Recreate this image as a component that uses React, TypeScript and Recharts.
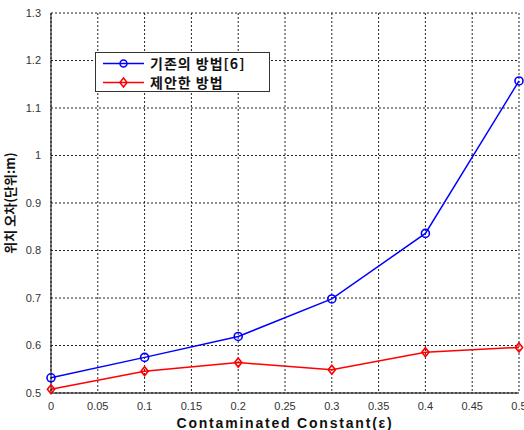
import { LineChart, Line, XAxis, YAxis, CartesianGrid, Legend } from "recharts"

const eps = [0, 0.1, 0.2, 0.3, 0.4, 0.5]
const existing = [0.532, 0.575, 0.619, 0.698, 0.836, 1.157]
const proposed = [0.508, 0.546, 0.564, 0.549, 0.586, 0.596]
const xTicks = [0, 0.05, 0.1, 0.15, 0.2, 0.25, 0.3, 0.35, 0.4, 0.45, 0.5]
const yTicks = [0.5, 0.6, 0.7, 0.8, 0.9, 1, 1.1, 1.2, 1.3]
const seriesNames = ["기존의 방법[6]", "제안한 방법"]

const data = eps.map((e, i) => ({
  eps: e,
  existing: existing[i],
  proposed: proposed[i]
}))

const Diamond = (props: any) => {
  const { cx, cy, stroke } = props
  if (cx == null || cy == null) return null
  const r = 4.5
  return (
    <path
      d={`M${cx},${cy - r}L${cx + r * 0.8},${cy}L${cx},${cy + r}L${cx - r * 0.8},${cy}Z`}
      fill="none"
      stroke={stroke}
      strokeWidth={1.6}
    />
  )
}

const LegendBox = () => (
  <div
    style={{
      width: 175,
      height: 40,
      border: "1px solid #333",
      background: "#fff",
      boxSizing: "border-box",
      fontFamily: "'Noto Sans CJK KR', sans-serif",
      fontWeight: 700,
      fontSize: 14
    }}
  >
    {seriesNames.map((name, i) => (
      <div key={name} style={{ display: "flex", alignItems: "center", height: 19, marginTop: i === 0 ? 1 : 0 }}>
        <svg width={54} height={19} style={{ flex: "none" }}>
          <line x1={7} y1={9.5} x2={48} y2={9.5} stroke={i === 0 ? "#0000ff" : "#ff0000"} strokeWidth={1.5} />
          {i === 0 ? (
            <circle cx={27.5} cy={9.5} r={3.5} fill="none" stroke="#0000ff" strokeWidth={1.5} />
          ) : (
            <path d="M27.5,5L31.1,9.5L27.5,14L23.9,9.5Z" fill="none" stroke="#ff0000" strokeWidth={1.5} />
          )}
        </svg>
        <span style={{ color: "#111", lineHeight: "19px", whiteSpace: "nowrap", letterSpacing: 1 }}>{name}</span>
      </div>
    ))}
  </div>
)

export default function App() {
  return (
    <div style={{ position: "absolute", left: 0, top: 0, width: 524, height: 430, background: "#fff" }}>
      <LineChart
        width={524}
        height={430}
        data={data}
        margin={{ top: 13, right: 5, left: 0, bottom: 0 }}
      >
        <CartesianGrid stroke="#222" strokeDasharray="2 2" strokeWidth={1} />
        <XAxis
          dataKey="eps"
          type="number"
          domain={[0, 0.5]}
          ticks={xTicks}
          height={37}
          tickLine={false}
          axisLine={{ stroke: "#000" }}
          tick={{ fill: "#333", fontSize: 11, fontFamily: "'Liberation Sans', Arial, sans-serif" }}
          tickMargin={3}
          interval={0}
          label={{
            value: "Contaminated Constant(ε)",
            position: "insideBottom",
            offset: 2,
            style: { fontWeight: 700, fontSize: 14, fill: "#111", letterSpacing: 1.8, fontFamily: "'Liberation Sans', Arial, sans-serif" }
          }}
        />
        <XAxis xAxisId="top" orientation="top" dataKey="eps" type="number" domain={[0, 0.5]} height={0} tick={false} tickLine={false} axisLine={{ stroke: "#888" }} />
        <YAxis
          type="number"
          domain={[0.5, 1.3]}
          ticks={yTicks}
          width={51}
          tickLine={false}
          axisLine={{ stroke: "#000" }}
          tick={{ fill: "#333", fontSize: 11, fontFamily: "'Liberation Sans', Arial, sans-serif" }}
          tickMargin={4}
          interval={0}
          label={{
            value: "위치 오차(단위:m)",
            angle: -90,
            position: "insideLeft",
            offset: 10,
            style: { textAnchor: "middle", fontWeight: 700, fontSize: 13, fill: "#111", fontFamily: "'Noto Sans CJK KR', sans-serif" }
          }}
        />
        <YAxis yAxisId="right" orientation="right" domain={[0.5, 1.3]} width={0} tick={false} tickLine={false} axisLine={{ stroke: "#000" }} />
        <Legend
          layout="horizontal"
          verticalAlign="middle"
          align="center"
          content={<LegendBox />}
          wrapperStyle={{ position: "absolute", left: 95, top: 52, width: 175, height: 40 }}
        />
        <Line
          dataKey="existing"
          name={seriesNames[0]}
          stroke="#0000ff"
          strokeWidth={1.5}
          dot={{ r: 4, fill: "none", stroke: "#0000ff", strokeWidth: 1.6 }}
          isAnimationActive={false}
        />
        <Line
          dataKey="proposed"
          name={seriesNames[1]}
          stroke="#ff0000"
          strokeWidth={1.5}
          dot={<Diamond />}
          isAnimationActive={false}
        />
      </LineChart>
    </div>
  )
}
